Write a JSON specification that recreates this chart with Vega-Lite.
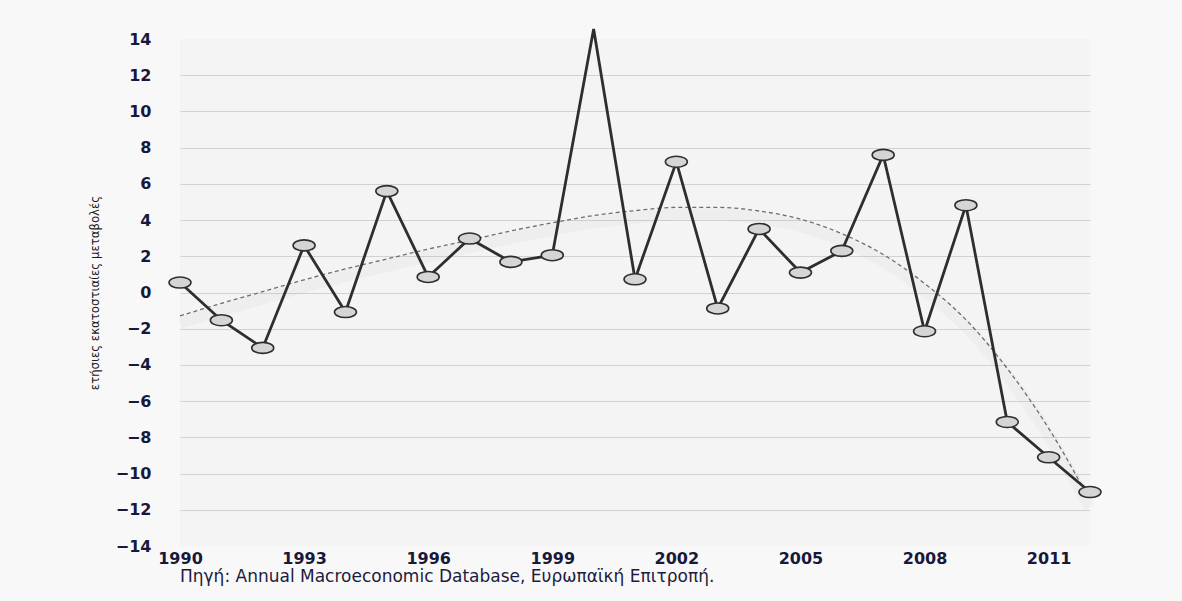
{
  "$schema": "https://vega.github.io/schema/vega-lite/v6.json",
  "width": 910,
  "height": 507,
  "autosize": {"type": "none"},
  "padding": {"left": 180, "top": 39, "right": 92, "bottom": 55},
  "background": "#f8f8f8",
  "datasets": {
    "gdp": [
      {"year": 1990, "value": 0.55},
      {"year": 1991, "value": -1.53},
      {"year": 1992, "value": -3.06},
      {"year": 1993, "value": 2.6},
      {"year": 1994, "value": -1.08},
      {"year": 1995, "value": 5.6},
      {"year": 1996, "value": 0.86},
      {"year": 1997, "value": 2.98},
      {"year": 1998, "value": 1.69},
      {"year": 1999, "value": 2.06},
      {"year": 2000, "value": 14.55},
      {"year": 2001, "value": 0.73},
      {"year": 2002, "value": 7.22},
      {"year": 2003, "value": -0.88},
      {"year": 2004, "value": 3.51},
      {"year": 2005, "value": 1.1},
      {"year": 2006, "value": 2.3},
      {"year": 2007, "value": 7.6},
      {"year": 2008, "value": -2.14},
      {"year": 2009, "value": 4.82},
      {"year": 2010, "value": -7.15},
      {"year": 2011, "value": -9.1},
      {"year": 2012, "value": -11.02}
    ],
    "trend": [
      {"year": 1990, "trend": -1.29},
      {"year": 1991, "trend": -0.6},
      {"year": 1992, "trend": 0.05},
      {"year": 1993, "trend": 0.7},
      {"year": 1994, "trend": 1.3},
      {"year": 1995, "trend": 1.85},
      {"year": 1996, "trend": 2.4},
      {"year": 1997, "trend": 2.89},
      {"year": 1998, "trend": 3.4},
      {"year": 1999, "trend": 3.85},
      {"year": 2000, "trend": 4.25},
      {"year": 2001, "trend": 4.52},
      {"year": 2002, "trend": 4.7},
      {"year": 2003, "trend": 4.7},
      {"year": 2004, "trend": 4.5},
      {"year": 2005, "trend": 4.05},
      {"year": 2006, "trend": 3.25},
      {"year": 2007, "trend": 2.1},
      {"year": 2008, "trend": 0.5},
      {"year": 2009, "trend": -1.5},
      {"year": 2010, "trend": -4.2},
      {"year": 2011, "trend": -7.5},
      {"year": 2012, "trend": -11.48}
    ]
  },
  "title": {
    "text": "Πηγή: Annual Macroeconomic Database, Ευρωπαϊκή Επιτροπή.",
    "orient": "bottom",
    "anchor": "start",
    "frame": "group",
    "offset": 3,
    "font": "DejaVu Sans",
    "fontSize": 17,
    "fontWeight": "normal",
    "color": "#1c1c3e"
  },
  "config": {
    "view": {"fill": "#f4f4f4", "stroke": null},
    "axis": {
      "labelFont": "DejaVu Sans",
      "labelFontWeight": "bold",
      "labelFontSize": 16,
      "labelColor": "#18183a",
      "labelOverlap": false,
      "domain": false,
      "ticks": false
    }
  },
  "encoding": {
    "x": {
      "field": "year",
      "type": "quantitative",
      "scale": {"domain": [1990, 2012], "nice": false, "zero": false},
      "axis": {
        "title": null,
        "values": [1990, 1993, 1996, 1999, 2002, 2005, 2008, 2011],
        "tickCount": 30,
        "format": "d",
        "grid": false,
        "labelPadding": 4,
        "labelFlush": false
      }
    }
  },
  "layer": [
    {
      "data": {"name": "trend"},
      "mark": {"type": "line", "interpolate": "monotone", "stroke": "#000000", "strokeOpacity": 0.022, "strokeWidth": 12, "yOffset": 7, "clip": false},
      "encoding": {
        "y": {"field": "trend", "type": "quantitative"}
      }
    },
    {
      "data": {"name": "trend"},
      "mark": {"type": "line", "interpolate": "monotone", "stroke": "#6e6e6e", "strokeWidth": 1.3, "strokeDash": [4, 3]},
      "encoding": {
        "y": {
          "field": "trend",
          "type": "quantitative",
          "scale": {"domain": [-14, 14], "nice": false},
          "axis": {
            "title": "ετήσιες εκατοστιαίες μεταβολές",
            "titleFont": "DejaVu Sans Condensed, Liberation Sans, sans-serif",
            "titleFontSize": 13,
            "titleFontWeight": "normal",
            "titleColor": "#1a1a1a",
            "titlePadding": 14,
            "values": [-14, -12, -10, -8, -6, -4, -2, 0, 2, 4, 6, 8, 10, 12, 14],
            "tickCount": 30,
            "labelPadding": 29,
            "grid": true,
            "gridColor": "#d2d2d2",
            "gridWidth": 1.2,
            "gridOpacity": {"condition": {"test": "datum.value === 14 || datum.value === -14", "value": 0}, "value": 1}
          }
        }
      }
    },
    {
      "data": {"name": "gdp"},
      "mark": {"type": "line", "stroke": "#2e2e2e", "strokeWidth": 2.8, "clip": false},
      "encoding": {
        "y": {"field": "value", "type": "quantitative"}
      }
    },
    {
      "data": {"name": "gdp"},
      "transform": [{"filter": "datum.value <= 14"}],
      "mark": {
        "type": "point",
        "shape": "M-1,0A1,0.5,0,1,1,1,0A1,0.5,0,1,1,-1,0Z",
        "size": 484,
        "filled": true,
        "fill": "#d5d5d5",
        "fillOpacity": 1,
        "stroke": "#2e2e2e",
        "strokeWidth": 1.6,
        "opacity": 1
      },
      "encoding": {
        "y": {"field": "value", "type": "quantitative"}
      }
    }
  ]
}
